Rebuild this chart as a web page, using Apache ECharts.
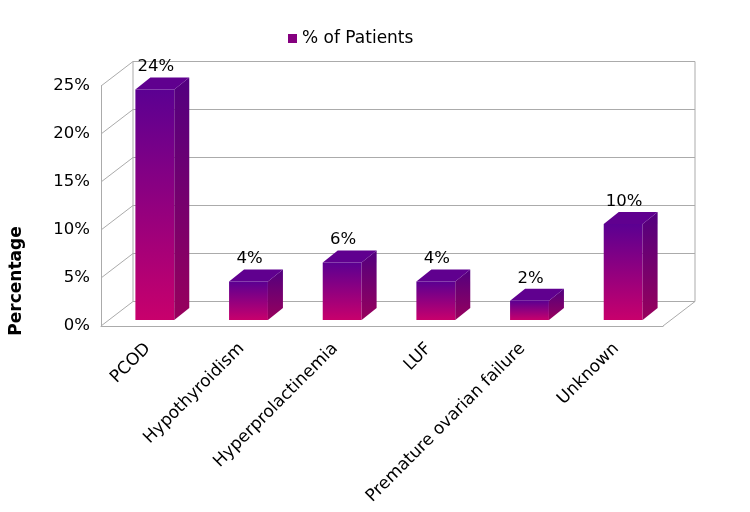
<!DOCTYPE html>
<html>
<head>
<meta charset="utf-8">
<script src="https://cdn.jsdelivr.net/npm/echarts@6/dist/echarts.min.js"></script>
<style>
  html, body { margin: 0; padding: 0; background: #fff; }
  #main { width: 750px; height: 512px; }
</style>
</head>
<body>
<div id="main"></div>
<script>
// 数据
var categories = ['PCOD', 'Hypothyroidism', 'Hyperprolactinemia', 'LUF', 'Premature ovarian failure', 'Unknown'];
var patients = [24, 4, 6, 4, 2, 10];
var yTicks = [0, 5, 10, 15, 20, 25];

var DX = 32, DY = -24.5;     // 后墙偏移
var BX = 7, BY = -6;         // 柱子正面相对前平面的偏移
var SX = 15, SY = -12;       // 柱子厚度
var gridColor = '#ababab';

var myChart = echarts.init(document.getElementById('main'));

function line(x1, y1, x2, y2) {
    return {
        type: 'line',
        shape: { x1: x1, y1: y1, x2: x2, y2: y2 },
        style: { stroke: gridColor, lineWidth: 1 }
    };
}

// 墙和网格线
function renderFrame(params, api) {
    var r = params.coordSys;
    var y = api.coord([0, api.value(1)])[1];
    var children = [
        line(r.x, y, r.x + DX, y + DY),
        line(r.x + DX, y + DY, r.x + r.width + DX, y + DY)
    ];
    if (params.dataIndex === 0) {
        children.push(line(r.x + r.width, y, r.x + r.width + DX, y + DY));
        children.push(line(r.x + DX, r.y + DY, r.x + DX, r.y + r.height + DY));
        children.push(line(r.x + r.width + DX, r.y + DY, r.x + r.width + DX, r.y + r.height + DY));
    }
    return { type: 'group', children: children };
}

// 3D 柱子
function renderBar(params, api) {
    var v = api.value(1);
    var top = api.coord([api.value(0), v]);
    var base = api.coord([api.value(0), 0]);
    var w = api.size([1, 0])[0] * 0.415;
    var x0 = top[0] - w / 2 + BX;
    var x1 = x0 + w;
    var yt = top[1] + BY;
    var yb = base[1] + BY;
    var front = {
        type: 'rect',
        shape: { x: x0, y: yt, width: w, height: yb - yt },
        style: {
            fill: new echarts.graphic.LinearGradient(0, 0, 0, 1, [
                { offset: 0, color: '#5b0092' },
                { offset: 1, color: '#c8006c' }
            ])
        }
    };
    var side = {
        type: 'polygon',
        shape: { points: [[x1, yt], [x1 + SX, yt + SY], [x1 + SX, yb + SY], [x1, yb]] },
        style: {
            fill: new echarts.graphic.LinearGradient(0, 0, 0, 1, [
                { offset: 0, color: '#520080' },
                { offset: 1, color: '#98005c' }
            ])
        }
    };
    var cap = {
        type: 'polygon',
        shape: { points: [[x0, yt], [x0 + SX, yt + SY], [x1 + SX, yt + SY], [x1, yt]] },
        style: { fill: '#60008f' }
    };
    var label = {
        type: 'text',
        x: x0 + w / 2 + 1,
        y: yt + SY - 2,
        style: {
            text: v + '%',
            align: 'center',
            verticalAlign: 'bottom',
            fill: '#000',
            font: '16.5px "DejaVu Sans"'
        }
    };
    return { type: 'group', children: [front, side, cap, label] };
}

option = {
    animation: false,
    backgroundColor: '#fff',
    textStyle: { fontFamily: 'DejaVu Sans' },
    legend: {
        data: ['% of Patients'],
        left: 283,
        top: 25,
        icon: 'rect',
        itemWidth: 9,
        itemHeight: 9,
        itemGap: 4,
        textStyle: { color: '#000', fontSize: 17, fontFamily: 'DejaVu Sans' }
    },
    grid: {
        left: 99,
        right: 87,
        top: 86,
        bottom: 186
    },
    xAxis: {
        type: 'category',
        data: categories,
        axisLine: { show: true, lineStyle: { color: gridColor } },
        axisTick: { show: false },
        axisLabel: {
            interval: 0,
            rotate: 45,
            margin: 20,
            color: '#000',
            fontSize: 17,
            fontFamily: 'DejaVu Sans'
        }
    },
    yAxis: {
        type: 'value',
        min: 0,
        max: 25,
        interval: 5,
        name: 'Percentage',
        nameLocation: 'middle',
        nameGap: 76,
        nameRotate: 90,
        nameTextStyle: { color: '#000', fontSize: 17, fontWeight: 'bold', fontFamily: 'DejaVu Sans', padding: [0, 0, 0, -150] },
        axisLine: { show: true, lineStyle: { color: gridColor } },
        axisTick: { show: false },
        splitLine: { show: false },
        axisLabel: {
            formatter: '{value}%',
            margin: 11,
            color: '#000',
            fontSize: 16.5,
            fontFamily: 'DejaVu Sans'
        }
    },
    series: [
        {
            type: 'custom',
            name: 'frame',
            z: 1,
            silent: true,
            renderItem: renderFrame,
            encode: { x: 0, y: 1 },
            data: yTicks.map(function (t) { return [0, t]; })
        },
        {
            type: 'custom',
            name: '% of Patients',
            z: 2,
            itemStyle: { color: '#85007f' },
            renderItem: renderBar,
            encode: { x: 0, y: 1 },
            data: patients.map(function (v, i) { return [i, v]; })
        }
    ]
};
myChart.setOption(option);
</script>
</body>
</html>
